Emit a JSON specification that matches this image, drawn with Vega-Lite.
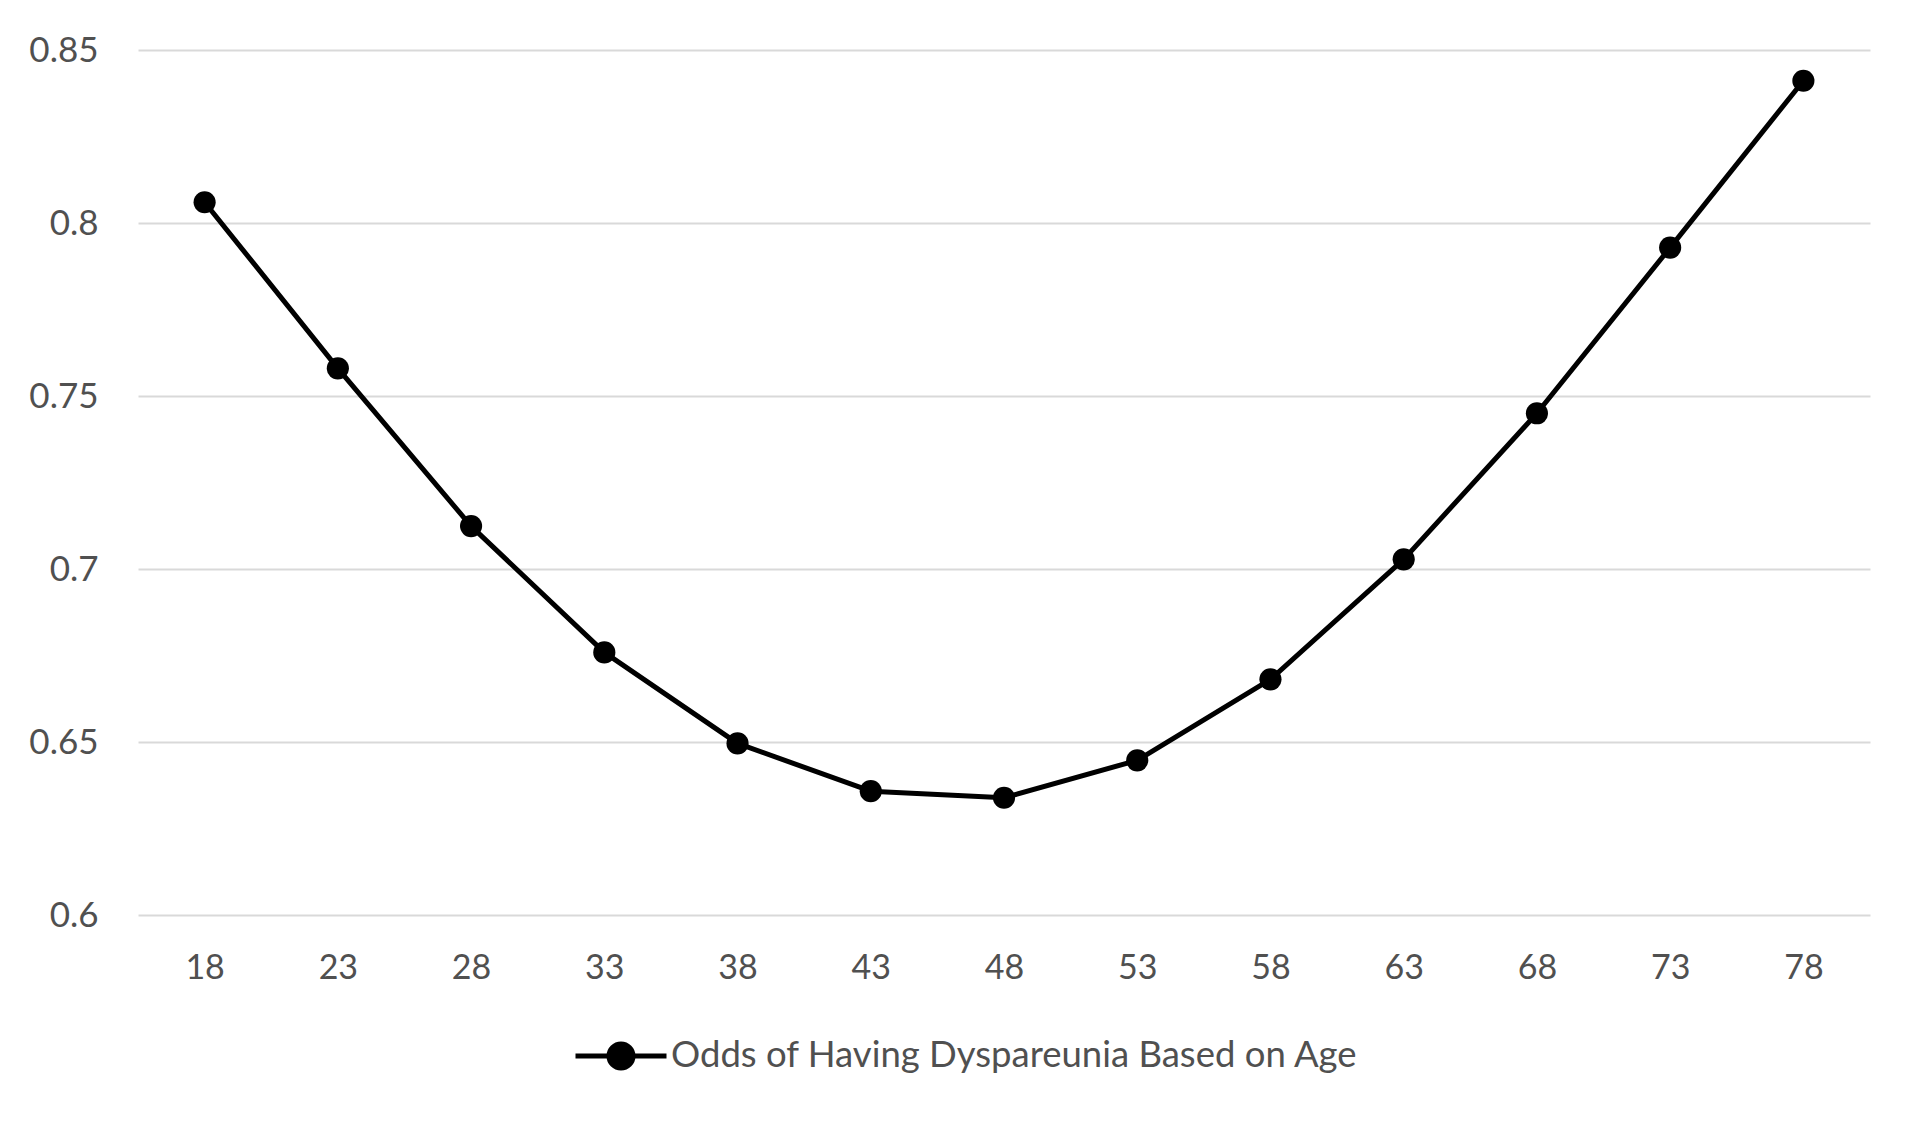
{
  "$schema": "https://vega.github.io/schema/vega-lite/v6.json",
  "width": 1732,
  "height": 865,
  "autosize": {"type": "none"},
  "padding": {"left": 138, "top": 50, "right": 50, "bottom": 207},
  "background": "white",
  "data": {
    "values": [
      {"age": "18", "odds": 0.806, "series": "Odds of Having Dyspareunia Based on Age"},
      {"age": "23", "odds": 0.758, "series": "Odds of Having Dyspareunia Based on Age"},
      {"age": "28", "odds": 0.7124, "series": "Odds of Having Dyspareunia Based on Age"},
      {"age": "33", "odds": 0.6759, "series": "Odds of Having Dyspareunia Based on Age"},
      {"age": "38", "odds": 0.6496, "series": "Odds of Having Dyspareunia Based on Age"},
      {"age": "43", "odds": 0.6358, "series": "Odds of Having Dyspareunia Based on Age"},
      {"age": "48", "odds": 0.6339, "series": "Odds of Having Dyspareunia Based on Age"},
      {"age": "53", "odds": 0.6447, "series": "Odds of Having Dyspareunia Based on Age"},
      {"age": "58", "odds": 0.6681, "series": "Odds of Having Dyspareunia Based on Age"},
      {"age": "63", "odds": 0.7028, "series": "Odds of Having Dyspareunia Based on Age"},
      {"age": "68", "odds": 0.745, "series": "Odds of Having Dyspareunia Based on Age"},
      {"age": "73", "odds": 0.7929, "series": "Odds of Having Dyspareunia Based on Age"},
      {"age": "78", "odds": 0.8411, "series": "Odds of Having Dyspareunia Based on Age"}
    ]
  },
  "encoding": {
    "x": {
      "field": "age",
      "type": "ordinal",
      "sort": null,
      "scale": {"type": "point", "padding": 0.5},
      "axis": {
        "title": null,
        "labelAngle": 0,
        "domain": false,
        "ticks": false,
        "tickSize": 0,
        "grid": false,
        "labelPadding": 36,
        "labelFont": "Lato",
        "labelFontSize": 34,
        "labelColor": "#505050"
      }
    },
    "y": {
      "field": "odds",
      "type": "quantitative",
      "scale": {"domain": [0.6, 0.85], "nice": false, "zero": false},
      "axis": {
        "title": null,
        "values": [0.6, 0.65, 0.7, 0.75, 0.8, 0.85],
        "format": "~g",
        "domain": false,
        "ticks": false,
        "tickSize": 0,
        "grid": true,
        "gridColor": "#d9d9d9",
        "gridWidth": 2,
        "labelPadding": 40,
        "labelFont": "Lato",
        "labelFontSize": 35,
        "labelColor": "#505050"
      }
    }
  },
  "layer": [
    {
      "mark": {"type": "line", "strokeWidth": 5, "strokeJoin": "round"},
      "encoding": {
        "color": {
          "field": "series",
          "type": "nominal",
          "scale": {"range": ["black"]},
          "legend": {
            "title": null,
            "orient": "none",
            "legendX": 435,
            "legendY": 958,
            "symbolType": "M-1,0H1M-0.264,0A0.264,0.264,0,1,1,0.264,0A0.264,0.264,0,1,1,-0.264,0Z",
            "symbolSize": 8281,
            "symbolStrokeWidth": 5,
            "symbolFillColor": "black",
            "symbolStrokeColor": "black",
            "labelOffset": 2,
            "labelFont": "Lato",
            "labelFontSize": 36.5,
            "labelColor": "#505050",
            "labelLimit": 1000,
            "encode": {"symbols": {"update": {"fill": {"value": "black"}, "stroke": {"value": "black"}, "strokeWidth": {"value": 5}}}}
          }
        }
      }
    },
    {
      "mark": {"type": "point", "filled": true, "size": 490, "color": "black", "opacity": 1}
    }
  ],
  "config": {
    "view": {"stroke": null}
  }
}
